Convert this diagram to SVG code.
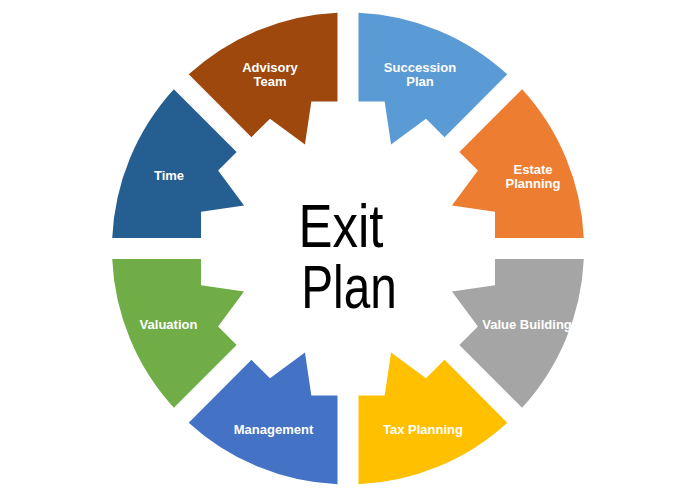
<svg xmlns="http://www.w3.org/2000/svg" xmlns:xlink="http://www.w3.org/1999/xlink" width="698" height="493" viewBox="0 0 698 493">
  <style>
    .lbl { font-family: "Liberation Sans", Arial, sans-serif; font-weight: bold; font-size: 13px; fill: #FFFFFF; text-anchor: middle; }
    .title { font-family: "Liberation Sans", Arial, sans-serif; font-size: 61px; fill: #000000; text-anchor: middle; }
  </style>
  <defs>
    <path id="seg" d="M-80.52,-221.84 A236,236 0 0 1 80.52,-221.84 L46.55,-139.83 L22.39,-149.84 L0,-112.5 L-22.39,-149.84 L-46.55,-139.83 Z"/>
  </defs>
  <rect width="698" height="493" fill="#FFFFFF"/>

  <g id="advisory-team">
    <use xlink:href="#seg" href="#seg" transform="translate(348,248.5) rotate(-22.5)" fill="#9E480E"/>
    <text class="lbl" x="270" y="71.5">Advisory</text>
    <text class="lbl" x="270" y="86">Team</text>
  </g>
  <g id="succession-plan">
    <use xlink:href="#seg" href="#seg" transform="translate(348,248.5) rotate(22.5)" fill="#5B9BD5"/>
    <text class="lbl" x="420" y="71.5">Succession</text>
    <text class="lbl" x="420" y="86">Plan</text>
  </g>
  <g id="estate-planning">
    <use xlink:href="#seg" href="#seg" transform="translate(348,248.5) rotate(67.5)" fill="#ED7D31"/>
    <text class="lbl" x="533" y="173.5">Estate</text>
    <text class="lbl" x="533" y="188">Planning</text>
  </g>
  <g id="value-building">
    <use xlink:href="#seg" href="#seg" transform="translate(348,248.5) rotate(112.5)" fill="#A5A5A5"/>
    <text class="lbl" x="527" y="328.5">Value Building</text>
  </g>
  <g id="tax-planning">
    <use xlink:href="#seg" href="#seg" transform="translate(348,248.5) rotate(157.5)" fill="#FFC000"/>
    <text class="lbl" x="423" y="433.5">Tax Planning</text>
  </g>
  <g id="management">
    <use xlink:href="#seg" href="#seg" transform="translate(348,248.5) rotate(202.5)" fill="#4472C4"/>
    <text class="lbl" x="273.5" y="433.5">Management</text>
  </g>
  <g id="valuation">
    <use xlink:href="#seg" href="#seg" transform="translate(348,248.5) rotate(247.5)" fill="#70AD47"/>
    <text class="lbl" x="168.5" y="329">Valuation</text>
  </g>
  <g id="time">
    <use xlink:href="#seg" href="#seg" transform="translate(348,248.5) rotate(292.5)" fill="#255E91"/>
    <text class="lbl" x="169" y="179.5">Time</text>
  </g>

  <g id="exit-plan">
    <text class="title" x="341" y="246.7" textLength="85" lengthAdjust="spacingAndGlyphs">Exit</text>
    <text class="title" x="349" y="308.3" textLength="95.5" lengthAdjust="spacingAndGlyphs">Plan</text>
  </g>
</svg>
